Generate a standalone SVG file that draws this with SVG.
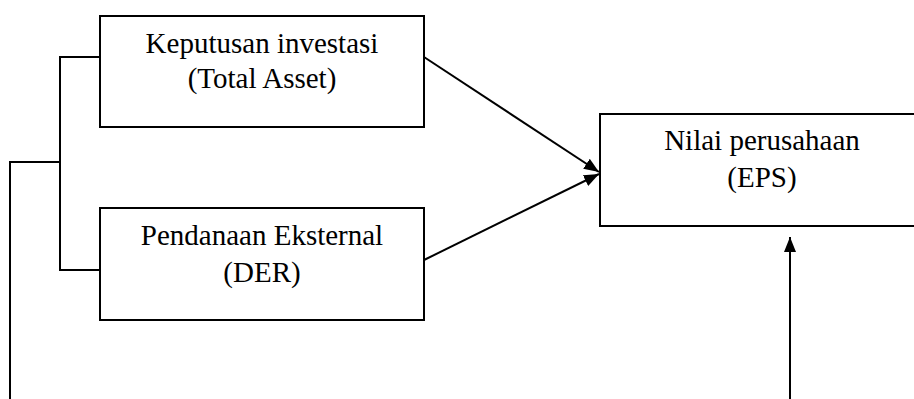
<svg xmlns="http://www.w3.org/2000/svg" width="914" height="399" viewBox="0 0 914 399">
<style>
.box{fill:#fff;stroke:#000;stroke-width:2}
.lbl{font-family:"Liberation Serif","Times New Roman",serif;font-size:29px;fill:#000;text-anchor:middle}
.conn{fill:none;stroke:#000;stroke-width:2}
</style>
<defs>
<marker id="ah" markerUnits="userSpaceOnUse" markerWidth="16" markerHeight="12" refX="15" refY="6" orient="auto">
<path d="M0,0 L15,6 L0,12 z" fill="#000"/>
</marker>
</defs>
<rect width="914" height="399" fill="#fff"/>
<g id="connectors">
<polyline class="conn" points="100,57 60,57 60,270 100,270"/>
<polyline class="conn" points="60,162 10,162 10,399"/>
<line class="conn" x1="424" y1="57" x2="599" y2="172" marker-end="url(#ah)"/>
<line class="conn" x1="424" y1="260" x2="599" y2="174" marker-end="url(#ah)"/>
<line class="conn" x1="790" y1="399" x2="790" y2="237" marker-end="url(#ah)"/>
</g>
<g id="node-investasi">
<rect class="box" x="100" y="16" width="324" height="111"/>
<text class="lbl" x="262" y="53">Keputusan investasi</text>
<text class="lbl" x="262" y="88">(Total Asset)</text>
</g>
<g id="node-pendanaan">
<rect class="box" x="100" y="208" width="324" height="112"/>
<text class="lbl" x="262" y="245">Pendanaan Eksternal</text>
<text class="lbl" x="262" y="282">(DER)</text>
</g>
<g id="node-nilai">
<rect class="box" x="600" y="114" width="330" height="112"/>
<text class="lbl" x="762" y="150">Nilai perusahaan</text>
<text class="lbl" x="762" y="187">(EPS)</text>
</g>
</svg>
